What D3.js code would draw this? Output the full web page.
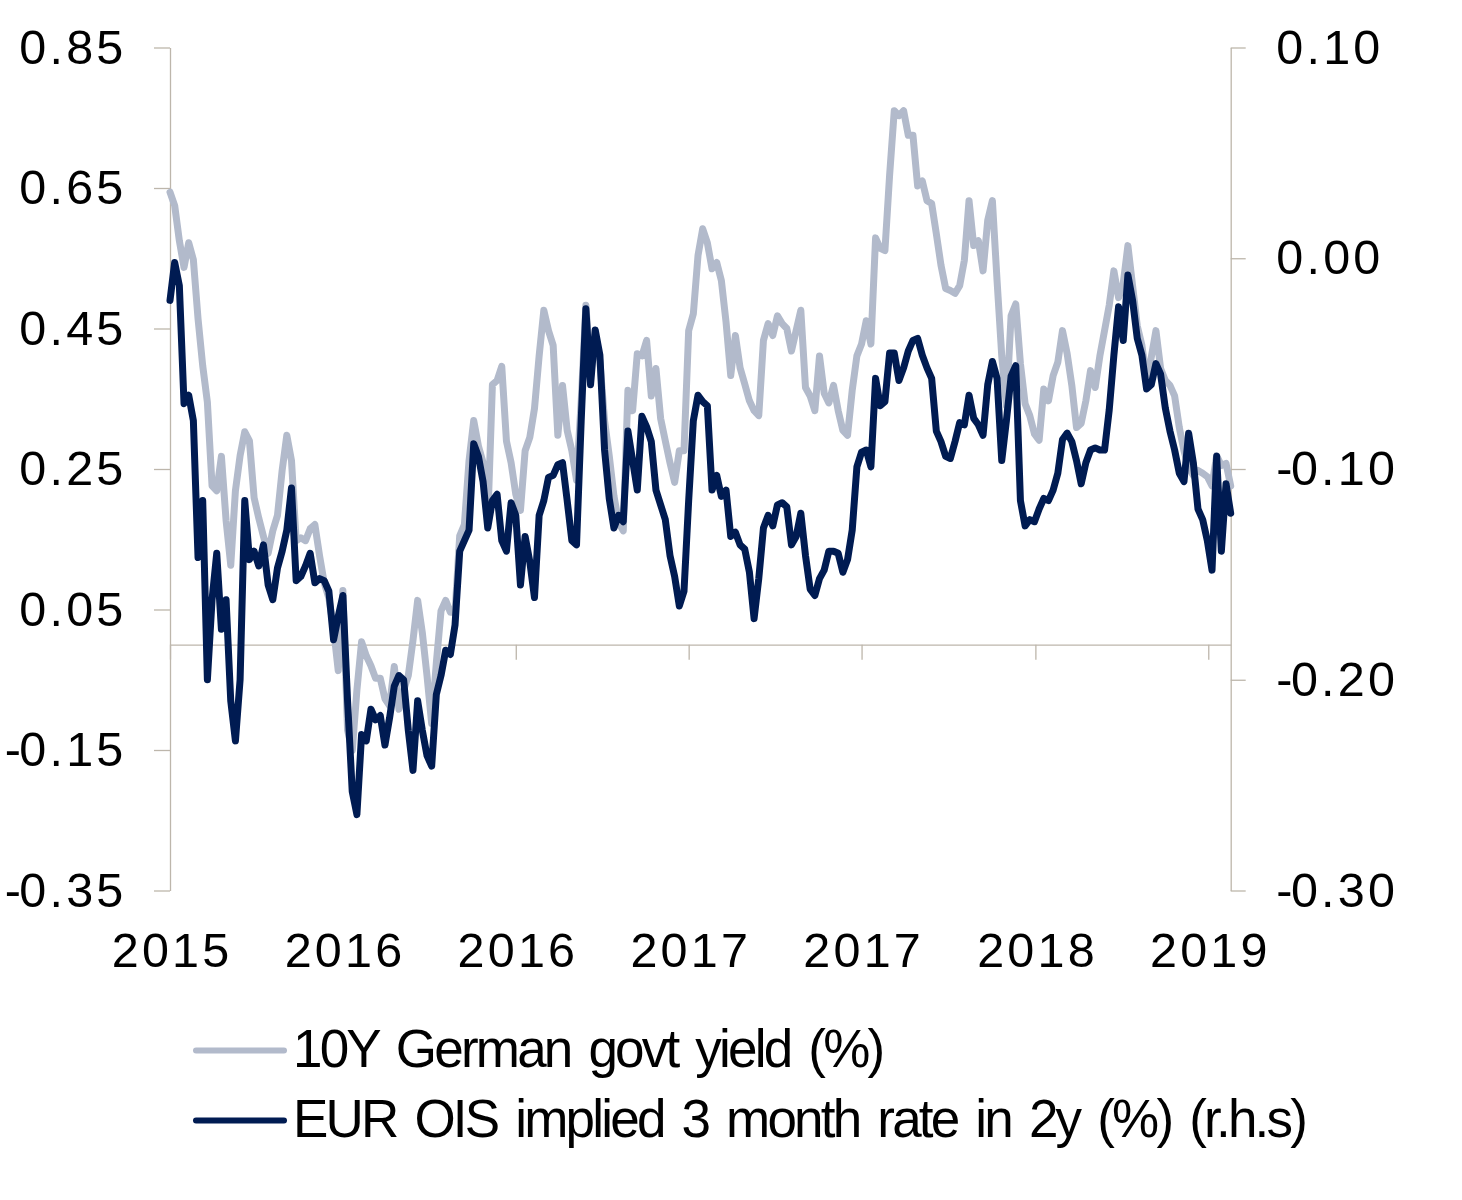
<!DOCTYPE html>
<html><head><meta charset="utf-8">
<script src="https://cdn.jsdelivr.net/npm/d3@7"></script>
<style>body{margin:0;background:#fff}svg{display:block}</style>
</head><body>
<svg id="chart" width="1462" height="1200"></svg>
<script>
// ---------- DATA ----------
const startDate = "2015-12-22";   // first observation
const stepDays = 5;               // sampling interval of the series below
const seriesNames = ["10Y German govt yield (%)", "EUR OIS implied 3 month rate in 2y (%) (r.h.s)"];
const bundYield = [
 0.644,0.625,0.575,0.537,0.572,0.548,0.464,0.397,0.345,0.226,
 0.219,0.268,0.177,0.113,0.219,0.269,0.303,0.290,0.209,0.180,
 0.154,0.130,0.162,0.184,0.248,0.298,0.262,0.148,0.152,0.148,
 0.165,0.171,0.127,0.088,0.066,0.023,-0.037,0.077,-0.122,-0.151,
 -0.065,0.004,-0.016,-0.030,-0.048,-0.048,-0.077,-0.087,-0.031,-0.092,
 -0.065,-0.044,0.006,0.063,0.017,-0.044,-0.112,-0.026,0.048,0.063,
 0.046,0.046,0.155,0.171,0.262,0.319,0.283,0.259,0.176,0.370,
 0.376,0.396,0.290,0.259,0.214,0.191,0.276,0.295,0.336,0.411,
 0.476,0.447,0.426,0.298,0.369,0.305,0.276,0.234,0.347,0.483,
 0.390,0.440,0.404,0.319,0.269,0.212,0.174,0.162,0.362,0.333,
 0.414,0.411,0.433,0.354,0.393,0.322,0.290,0.259,0.231,0.276,
 0.276,0.447,0.471,0.554,0.592,0.572,0.535,0.544,0.518,0.459,
 0.383,0.440,0.394,0.371,0.347,0.333,0.326,0.433,0.457,0.440,
 0.468,0.457,0.450,0.418,0.447,0.476,0.366,0.354,0.333,0.411,
 0.358,0.344,0.369,0.333,0.305,0.298,0.362,0.411,0.428,0.461,
 0.428,0.579,0.564,0.561,0.668,0.760,0.753,0.760,0.725,0.725,
 0.653,0.660,0.632,0.628,0.585,0.540,0.507,0.504,0.500,0.511,
 0.547,0.632,0.568,0.575,0.532,0.604,0.632,0.518,0.411,0.340,
 0.468,0.485,0.400,0.343,0.326,0.300,0.291,0.364,0.347,0.383,
 0.402,0.447,0.414,0.369,0.309,0.315,0.347,0.390,0.366,0.411,
 0.447,0.483,0.532,0.494,0.514,0.568,0.511,0.454,0.426,0.376,
 0.409,0.447,0.393,0.376,0.369,0.354,0.309,0.276,0.252,0.241,
 0.248,0.244,0.239,0.226,0.269,0.255,0.258,0.226
];
const oisRate = [
 -0.020,-0.002,-0.013,-0.069,-0.065,-0.077,-0.142,-0.115,-0.200,-0.162,
 -0.140,-0.176,-0.162,-0.210,-0.229,-0.200,-0.115,-0.143,-0.139,-0.146,
 -0.136,-0.155,-0.162,-0.147,-0.139,-0.129,-0.109,-0.153,-0.151,-0.146,
 -0.140,-0.154,-0.152,-0.153,-0.158,-0.181,-0.170,-0.160,-0.210,-0.253,
 -0.264,-0.226,-0.229,-0.214,-0.219,-0.217,-0.231,-0.218,-0.203,-0.198,
 -0.200,-0.224,-0.243,-0.210,-0.224,-0.236,-0.241,-0.207,-0.198,-0.186,
 -0.188,-0.174,-0.139,-0.134,-0.129,-0.088,-0.094,-0.106,-0.128,-0.115,
 -0.112,-0.134,-0.139,-0.116,-0.122,-0.155,-0.132,-0.144,-0.161,-0.122,
 -0.115,-0.104,-0.103,-0.098,-0.097,-0.115,-0.134,-0.136,-0.077,-0.024,
 -0.060,-0.034,-0.046,-0.091,-0.114,-0.128,-0.122,-0.125,-0.082,-0.096,
 -0.110,-0.075,-0.080,-0.087,-0.110,-0.117,-0.124,-0.141,-0.151,-0.165,
 -0.158,-0.115,-0.077,-0.065,-0.068,-0.070,-0.110,-0.103,-0.113,-0.110,
 -0.132,-0.130,-0.136,-0.138,-0.149,-0.171,-0.152,-0.128,-0.122,-0.127,
 -0.117,-0.116,-0.118,-0.136,-0.132,-0.121,-0.141,-0.157,-0.160,-0.152,
 -0.148,-0.139,-0.139,-0.140,-0.149,-0.143,-0.129,-0.099,-0.092,-0.091,
 -0.099,-0.057,-0.070,-0.068,-0.045,-0.045,-0.058,-0.052,-0.044,-0.039,
 -0.038,-0.046,-0.052,-0.057,-0.082,-0.087,-0.094,-0.095,-0.087,-0.078,
 -0.079,-0.065,-0.076,-0.079,-0.084,-0.060,-0.049,-0.057,-0.096,-0.077,
 -0.056,-0.051,-0.115,-0.127,-0.124,-0.125,-0.119,-0.114,-0.115,-0.110,
 -0.102,-0.086,-0.083,-0.087,-0.096,-0.107,-0.097,-0.091,-0.090,-0.091,
 -0.091,-0.072,-0.046,-0.023,-0.039,-0.008,-0.020,-0.038,-0.046,-0.062,
 -0.060,-0.050,-0.055,-0.071,-0.082,-0.091,-0.102,-0.106,-0.083,-0.097,
 -0.119,-0.124,-0.134,-0.148,-0.094,-0.139,-0.107,-0.121
];
const leftTicks  = [-0.35, -0.15, 0.05, 0.25, 0.45, 0.65, 0.85];
const rightTicks = [-0.30, -0.20, -0.10, 0.00, 0.10];
const xTickDates = ["2015-12-22","2016-06-24","2016-12-26","2017-06-29","2017-12-31","2018-07-05","2019-01-06"];

// ---------- STYLE ----------
const axisColor = "#bdb6ab";
const grayColor = "#b2bacb";
const navyColor = "#001b52";
const font = "'Liberation Sans', Arial, Helvetica, sans-serif";

const svg = d3.select("#chart");
const parse = d3.timeParse("%Y-%m-%d");
const t0 = parse(startDate);
const dates = bundYield.map((_, i) => d3.timeDay.offset(t0, i * stepDays));

const plot = {left: 170, right: 1230.7, top: 47.5, bottom: 890.5};
const x = d3.scaleTime().domain([t0, dates[dates.length - 1]]).range([plot.left, plot.right]);
const yL = d3.scaleLinear().domain([-0.35, 0.85]).range([plot.bottom, plot.top]);
const yR = d3.scaleLinear().domain([-0.30, 0.10]).range([plot.bottom, plot.top]);

const fmt = d => d.toFixed(2);
const axisFont = 48.5, axisLS = 3.2;

// left axis
const gL = svg.append("g").attr("transform", `translate(${plot.left},0)`)
  .call(d3.axisLeft(yL).tickValues(leftTicks).tickSize(16).tickSizeOuter(0).tickFormat(fmt));
// right axis
const gR = svg.append("g").attr("transform", `translate(${plot.right},0)`)
  .call(d3.axisRight(yR).tickValues(rightTicks).tickSize(15).tickSizeOuter(0).tickFormat(fmt));
// x axis at left zero
const gX = svg.append("g").attr("transform", `translate(0,${yL(0)})`)
  .call(d3.axisBottom(x).tickValues(xTickDates.map(parse)).tickSize(15).tickSizeOuter(0)
        .tickFormat(d3.timeFormat("%Y")));

[gL, gR, gX].forEach(g => {
  g.select(".domain").attr("stroke", axisColor).attr("stroke-width", 1.3);
  g.selectAll(".tick line").attr("stroke", axisColor).attr("stroke-width", 1.3);
  g.selectAll("text").attr("fill", "#000").style("font-family", font)
    .style("font-size", axisFont + "px").style("letter-spacing", axisLS + "px");
  g.attr("font-family", null).attr("font-size", null);
});
// tighter hyphen for negative labels
[gL, gR].forEach(g => g.selectAll(".tick text").each(function(d) {
  const s = fmt(d);
  if (s[0] === "-") {
    const t = d3.select(this).text(null);
    t.append("tspan").style("letter-spacing", "-1.5px").text("-");
    t.append("tspan").text(s.slice(1));
  }
}));
gL.selectAll(".tick text").attr("x", -(170 - 126.5)).attr("dy", "0.32em");
gR.selectAll(".tick text").attr("x", 1276.3 - plot.right).attr("dy", "0.32em");
gX.selectAll(".tick text").attr("y", 966.7 - yL(0)).attr("dy", 0).attr("dx", axisLS / 2);

// lines
const lineL = d3.line().x((d, i) => x(dates[i])).y(d => yL(d));
const lineR = d3.line().x((d, i) => x(dates[i])).y(d => yR(d));
svg.append("path").datum(bundYield).attr("d", lineL)
  .attr("fill", "none").attr("stroke", grayColor).attr("stroke-width", 7)
  .attr("stroke-linejoin", "round").attr("stroke-linecap", "round");
svg.append("path").datum(oisRate).attr("d", lineR)
  .attr("fill", "none").attr("stroke", navyColor).attr("stroke-width", 7)
  .attr("stroke-linejoin", "round").attr("stroke-linecap", "round");

// legend
const legend = [
  {name: seriesNames[0], color: grayColor, y: 1050.5, base: 1066.7},
  {name: seriesNames[1], color: navyColor, y: 1120.5, base: 1136.5}
];
const lg = svg.append("g");
legend.forEach(l => {
  lg.append("line").attr("x1", 196).attr("x2", 284).attr("y1", l.y).attr("y2", l.y)
    .attr("stroke", l.color).attr("stroke-width", 6).attr("stroke-linecap", "round");
  lg.append("text").attr("x", 293).attr("y", l.base).text(l.name)
    .style("font-family", font).style("font-size", "53px")
    .style("letter-spacing", "-2.8px").style("word-spacing", "6px")
    .attr("fill", "#000");
});
</script>
</body></html>
